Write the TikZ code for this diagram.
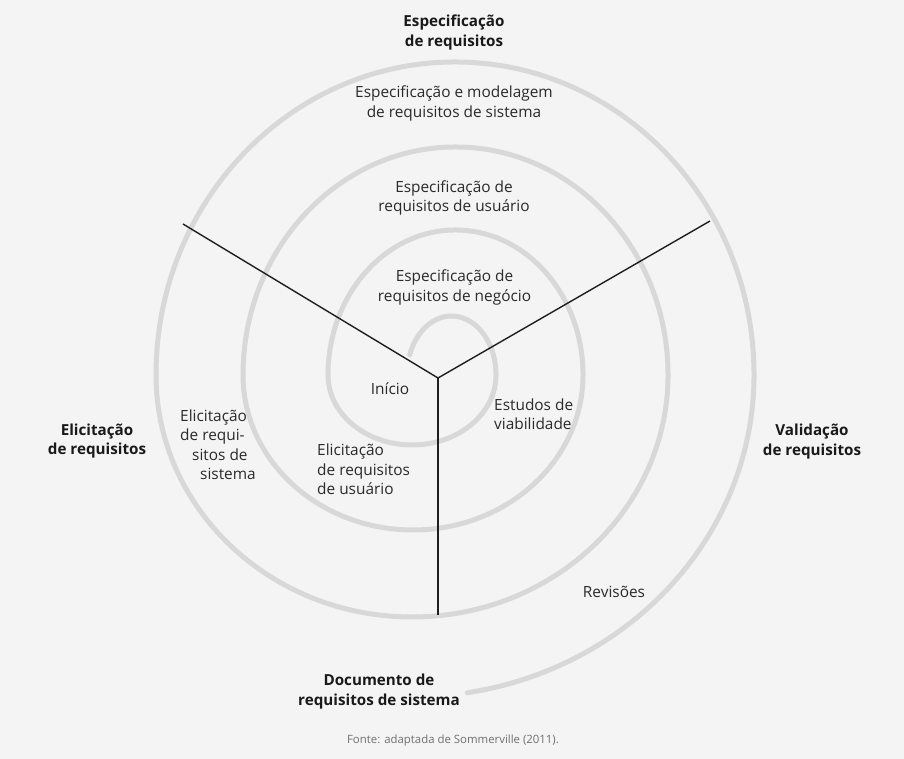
\documentclass[tikz,border=0pt]{standalone}
\usepackage{fontspec}
\setmainfont{Open Sans}
\definecolor{bgcol}{HTML}{F4F4F4}
\definecolor{spiralgray}{HTML}{D8D8D8}
\definecolor{txt}{HTML}{2A2A2A}
\definecolor{linecol}{HTML}{1E1E1E}
\definecolor{srcgray}{HTML}{707070}
\begin{document}
\begin{tikzpicture}[x=1pt,y=-1pt,
  spiral/.style={draw=spiralgray,line width=5pt,line cap=round},
  axis/.style={draw=linecol,line width=1.4pt},
  lbl/.style={font=\fontsize{15.4}{19.5}\selectfont,text=txt,align=center,inner sep=0pt},
  lblL/.style={lbl,align=left,anchor=west},
  bold/.style={font=\fontsize{15.2}{19.5}\selectfont\bfseries,text=black!90,align=center,inner sep=0pt},
  src/.style={font=\fontsize{11.4}{13}\selectfont,text=srcgray,inner sep=0pt}]
\fill[bgcol] (0,0) rectangle (904,759);
\useasboundingbox (0,0) rectangle (904,759);
% spiral
\coordinate (s0) at (409.7,354.8);
\draw[spiral] (s0)
  arc[start angle=200,end angle=360,x radius=44.5,y radius=59]
  arc[start angle=0,end angle=180,x radius=84,y radius=70]
  arc[start angle=180,end angle=360,x radius=127.5,y radius=145]
  arc[start angle=0,end angle=180,x radius=170,y radius=155]
  arc[start angle=180,end angle=360,x radius=212.5,y radius=228]
  arc[start angle=0,end angle=180,x radius=256,y radius=242]
  arc[start angle=180,end angle=360,x radius=299,y radius=313]
  arc[start angle=0,end angle=80.7,x radius=342,y radius=322];
% axes
\coordinate (c) at (438,378);
\coordinate (ul) at (183,224);
\coordinate (ur) at (710,221);
\coordinate (bt) at (438,615);
\draw[axis] (c) -- (ul);
\draw[axis] (c) -- (ur);
\draw[axis] (c) -- (bt);
% labels
\node[bold] (espec) at (454,32.5) {Especificação\\de requisitos};
\node[lbl] (espmod) at (454,103.5) {Especificação e modelagem\\de requisitos de sistema};
\node[lbl] (espusr) at (454,198) {Especificação de\\requisitos de usuário};
\node[lbl] (espneg) at (454.5,287.5) {Especificação de\\requisitos de negócio};
\node[lbl] (inicio) at (390,389) {Início};
\node[lblL] (estudos) at (494,414) {Estudos de\\viabilidade};
\node[lblL] (elsis) at (180,444.5) {Elicitação\\de requi-\\\hspace*{12pt}sitos de\\\hspace*{20pt}sistema};
\node[lblL] (elusr) at (317,469.5) {Elicitação\\de requisitos\\de usuário};
\node[bold] (elic) at (97,441) {Elicitação\\de requisitos};
\node[bold] (valid) at (812,441.5) {Validação\\de requisitos};
\node[lbl] (rev) at (614,592) {Revisões};
\node[bold] (doc) at (379,691.5) {Documento de\\requisitos de sistema};
\node[src] (fonte) at (453,741) {Fonte: adaptada de Sommerville (2011).};
\end{tikzpicture}
\end{document}
